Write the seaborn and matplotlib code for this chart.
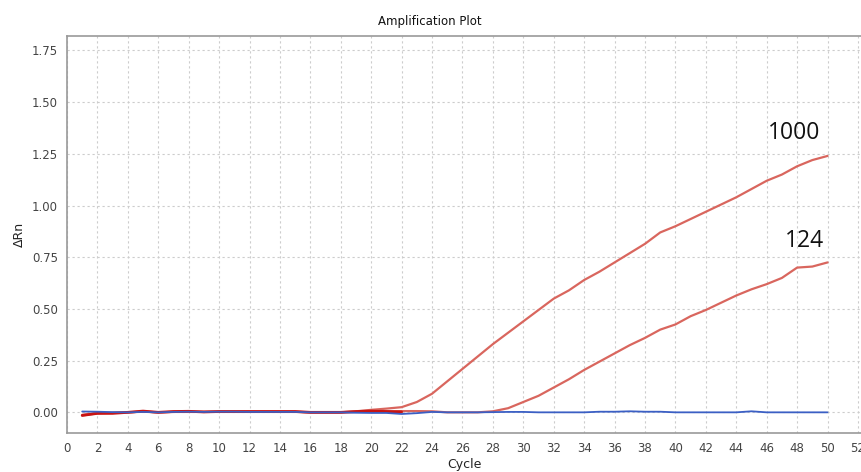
import pandas as pd
import matplotlib.pyplot as plt
import seaborn as sns

# cycles and delta Rn values
cycles = list(range(1, 51))

rn_1000 = [-0.015, -0.005, -0.003, 0.0, 0.004, 0.0, 0.002, 0.003, 0.002, 0.003,
           0.003, 0.003, 0.003, 0.003, 0.003, 0.0, 0.0, 0.0, 0.005, 0.012,
           0.018, 0.025, 0.05, 0.09, 0.15, 0.21, 0.27, 0.33, 0.385, 0.44,
           0.495, 0.55, 0.59, 0.64, 0.68, 0.725, 0.77, 0.815, 0.87, 0.90,
           0.935, 0.97, 1.005, 1.04, 1.08, 1.12, 1.15, 1.19, 1.22, 1.24]

rn_124 = [-0.012, -0.004, -0.002, 0.0, 0.003, 0.0, 0.002, 0.002, 0.002, 0.002,
          0.002, 0.002, 0.002, 0.002, 0.002, 0.0, 0.0, 0.0, 0.002, 0.004,
          0.005, 0.006, 0.006, 0.005, 0.0, 0.0, 0.0, 0.005, 0.02, 0.05,
          0.08, 0.12, 0.16, 0.205, 0.245, 0.285, 0.325, 0.36, 0.40, 0.425,
          0.465, 0.495, 0.53, 0.565, 0.595, 0.62, 0.65, 0.70, 0.705, 0.725]

base_cycles = list(range(1, 23))
rn_base = [-0.015, -0.005, -0.005, 0.0, 0.006, 0.0, 0.004, 0.005, 0.002, 0.004,
           0.004, 0.004, 0.004, 0.004, 0.004, 0.0, 0.0, 0.0, 0.004, 0.006,
           0.004, 0.002]

rn_ntc = [0.004, 0.003, 0.001, 0.0, 0.002, 0.0, 0.002, 0.003, 0.002, 0.003,
          0.003, 0.002, 0.002, 0.002, 0.002, 0.0, 0.0, 0.0, -0.002, -0.003,
          -0.003, -0.008, -0.004, 0.002, 0.0, 0.0, 0.0, 0.001, 0.002, 0.002,
          0.0, 0.0, 0.0, 0.0, 0.003, 0.003, 0.005, 0.003, 0.003, 0.0,
          0.0, 0.0, 0.0, 0.0, 0.005, 0.0, 0.0, 0.0, 0.0, 0.0]

labels = ["1000", "124"]
label_x = [47.8, 48.5]
label_y = [1.35, 0.83]

df_1000 = pd.DataFrame({"Cycle": cycles, "dRn": rn_1000})
df_124 = pd.DataFrame({"Cycle": cycles, "dRn": rn_124})
df_base = pd.DataFrame({"Cycle": base_cycles, "dRn": rn_base})
df_ntc = pd.DataFrame({"Cycle": cycles, "dRn": rn_ntc})

sns.set_style("white")
fig = plt.figure(figsize=(8.61, 4.72), dpi=100)
ax = fig.add_axes([0.0778, 0.0826, 0.9222, 0.8411])

sns.lineplot(data=df_124, x="Cycle", y="dRn", color="#d9665e", lw=1.6, ax=ax)
sns.lineplot(data=df_1000, x="Cycle", y="dRn", color="#d9665e", lw=1.6, ax=ax)
sns.lineplot(data=df_base, x="Cycle", y="dRn", color="#c81414", lw=2.0, ax=ax)
sns.lineplot(data=df_ntc, x="Cycle", y="dRn", color="#3b5fc4", lw=1.3, ax=ax)

for t, x, y in zip(labels, label_x, label_y):
    ax.text(x, y, t, ha="center", va="center", fontsize=16.5, family="Open Sans", color="#111111")

ax.set_xlim(0, 52.2)
ax.set_ylim(-0.10, 1.82)
ax.set_xticks(range(0, 53, 2))
ax.set_yticks([0.0, 0.25, 0.5, 0.75, 1.0, 1.25, 1.5, 1.75])
ax.set_yticklabels([f"{v:.2f}" for v in ax.get_yticks()])
ax.grid(True, color="#cccccc", linestyle=(0, (2, 2.5)), lw=0.8)
ax.tick_params(axis="both", labelsize=8.5, labelcolor="#444444", length=3, color="#999999")

for side in ["left", "bottom", "top"]:
    ax.spines[side].set_color("#999999")
    ax.spines[side].set_linewidth(1.2)
ax.spines["right"].set_visible(False)

ax.set_xlabel("Cycle", fontsize=9, color="#222222", labelpad=2)
ax.set_ylabel("ΔRn", fontsize=9, color="#222222", labelpad=4)
fig.text(0.4994, 0.955, "Amplification Plot", ha="center", va="center", fontsize=8.5, color="#111111")

fig.savefig("out.png", dpi=100)
